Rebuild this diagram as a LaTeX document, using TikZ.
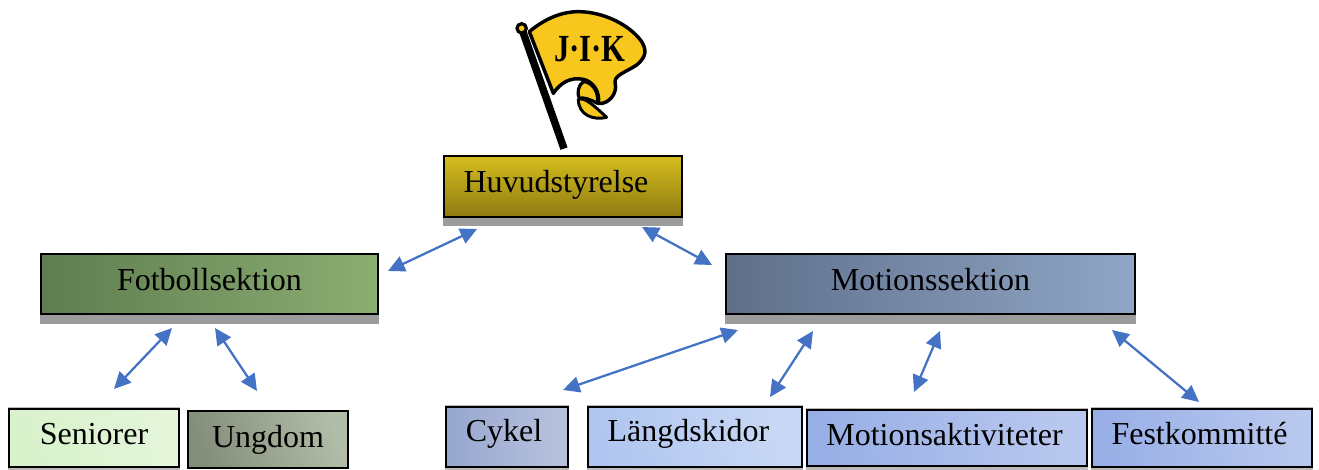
\documentclass[tikz,border=0pt]{standalone}
\usepackage{fontspec}
\setmainfont{Liberation Serif}
\usetikzlibrary{arrows.meta,calc}
\definecolor{arrowblue}{HTML}{4472C4}
\definecolor{shadowgray}{HTML}{9C9C9C}
\definecolor{flagyellow}{HTML}{F7C71E}
\definecolor{huvtop}{HTML}{D4BE1E}
\definecolor{huvbot}{HTML}{8F7A12}
\definecolor{fotl}{HTML}{5F7D50}
\definecolor{fotr}{HTML}{8BAE72}
\definecolor{motl}{HTML}{5F6F8A}
\definecolor{motr}{HTML}{90A6C6}
\definecolor{senl}{HTML}{D8F2CB}
\definecolor{senr}{HTML}{E4F5DA}
\definecolor{ungl}{HTML}{848E7A}
\definecolor{ungr}{HTML}{B2BDA8}
\definecolor{cykl}{HTML}{97A7CF}
\definecolor{cykr}{HTML}{B9C3DF}
\definecolor{lanl}{HTML}{B0C6F0}
\definecolor{lanr}{HTML}{C9D8F5}
\definecolor{aktl}{HTML}{98AFE6}
\definecolor{aktr}{HTML}{B9C8EE}
\newcommand{\boxtext}[3]{\raisebox{#2}{\hspace*{#1}#3}}
\tikzset{
  x=0.75pt,y=-0.75pt,
  orgbox/.style={draw=black,line width=1.9pt,inner sep=0pt,outer sep=0pt,
    font=\fontsize{24pt}{28pt}\selectfont,text=black,text height=17pt,text depth=5pt,anchor=center},
  biarrow/.style={draw=arrowblue,line width=1.7pt,{Triangle[length=12.5pt,width=12pt]}-{Triangle[length=12.5pt,width=12pt]}},
  shadowbar/.style={fill=shadowgray,draw=none},
  softbar/.style={fill=shadowgray!70,draw=none},
}
\begin{document}
\begin{tikzpicture}
\useasboundingbox (0,0) rectangle (1319,470);
\fill[white] (0,0) rectangle (1319,470);

% flag
\begin{scope}[shift={(500,0)},x=0.25pt,y=-0.25pt]
  \fill[flagyellow,draw=black,line width=2.6pt,line join=round]
    (88,95) .. controls (130,60) and (180,35) .. (235,35)
    .. controls (310,35) and (390,75) .. (425,125)
    .. controls (440,150) and (440,170) .. (410,195)
    .. controls (380,215) and (345,225) .. (345,245)
    .. controls (350,265) and (345,290) .. (320,305)
    .. controls (310,310) and (300,312) .. (295,310)
    .. controls (300,275) and (280,245) .. (250,238)
    .. controls (210,230) and (180,250) .. (160,280) -- cycle;
  \fill[flagyellow,draw=black,line width=2.4pt,line join=round]
    (250,245) .. controls (275,245) and (298,275) .. (292,310)
    .. controls (275,300) and (250,290) .. (238,295)
    .. controls (230,280) and (235,255) .. (250,245) -- cycle;
  \fill[flagyellow,draw=black,line width=2.2pt,line join=round]
    (235,298) .. controls (255,290) and (285,320) .. (320,352)
    .. controls (280,362) and (235,345) .. (235,298) -- cycle;
  \draw[black,line width=5.6pt] (65,85) -- (192,446);
  \fill[flagyellow,draw=black,line width=2.4pt] (65,85) circle[radius=14];
  \node[yscale=1.25,inner sep=0pt,text=black] (flagtext) at (270,148)
    {\fontsize{23pt}{26pt}\selectfont\bfseries J·I·K};
\end{scope}

% shadows (behind the boxes)
\fill[shadowbar] (443,215) rectangle (683,226);
\fill[shadowbar] (40,312) rectangle (379,324);
\fill[shadowbar] (725,312) rectangle (1136,324);
\fill[softbar] (8,407) rectangle (180,470);
\fill[softbar] (445,405) rectangle (569,470);
\fill[softbar] (587,405) rectangle (803,470);
\fill[softbar] (806,408) rectangle (1088,470);
\fill[softbar] (1091,407) rectangle (1313,470);

% boxes
\node[orgbox,minimum width=178.5pt,minimum height=45.75pt,top color=huvtop,bottom color=huvbot] (huvud) at (563,186.5) {\boxtext{-10.5pt}{1.25pt}{Huvudstyrelse}};
\node[orgbox,minimum width=252.75pt,minimum height=45pt,left color=fotl,right color=fotr] (fotboll) at (209.5,284) {\boxtext{0pt}{1.25pt}{Fotbollsektion}};
\node[orgbox,minimum width=306.75pt,minimum height=45pt,left color=motl,right color=motr] (motion) at (930.5,284) {\boxtext{0pt}{1.25pt}{Motionssektion}};
\node[orgbox,minimum width=127.5pt,minimum height=43.5pt,left color=senl,right color=senr,shading angle=110] (seniorer) at (94,438) {\boxtext{0pt}{1.25pt}{Seniorer}};
\node[orgbox,minimum width=120pt,minimum height=42.75pt,left color=ungl,right color=ungr,shading angle=110] (ungdom) at (268,439.5) {\boxtext{0pt}{0pt}{Ungdom}};
\node[orgbox,minimum width=91.5pt,minimum height=45pt,left color=cykl,right color=cykr] (cykel) at (507,437) {\boxtext{-4.5pt}{3pt}{Cykel}};
\node[orgbox,minimum width=160.5pt,minimum height=45pt,left color=lanl,right color=lanr,shading angle=105] (langd) at (695,437) {\boxtext{-9.75pt}{3pt}{Längdskidor}};
\node[orgbox,minimum width=210pt,minimum height=42pt,left color=aktl,right color=aktr,shading angle=100] (aktivitet) at (947,438) {\boxtext{-3.75pt}{0.5pt}{Motionsaktiviteter}};
\node[orgbox,minimum width=165pt,minimum height=43.5pt,left color=aktl,right color=aktr,shading angle=100] (fest) at (1202,438) {\boxtext{-3.75pt}{1.5pt}{Festkommitté}};

% free ends of the connectors
\coordinate (a1) at (388,271); \coordinate (a2) at (477,229);
\coordinate (b1) at (642,227); \coordinate (b2) at (712,265);
\coordinate (c1) at (114,389); \coordinate (c2) at (172,328);
\coordinate (d1) at (215,328); \coordinate (d2) at (257,391);
\coordinate (e1) at (563,390); \coordinate (e2) at (738,330);
\coordinate (f1) at (770,397); \coordinate (f2) at (813,331);
\coordinate (g1) at (914,392); \coordinate (g2) at (940,331);
\coordinate (h1) at (1112,330); \coordinate (h2) at (1199,402);

\draw[biarrow] (a1) -- (a2);
\draw[biarrow] (b1) -- (b2);
\draw[biarrow] (c1) -- (c2);
\draw[biarrow] (d1) -- (d2);
\draw[biarrow] (e1) -- (e2);
\draw[biarrow] (f1) -- (f2);
\draw[biarrow] (g1) -- (g2);
\draw[biarrow] (h1) -- (h2);
\end{tikzpicture}
\end{document}
